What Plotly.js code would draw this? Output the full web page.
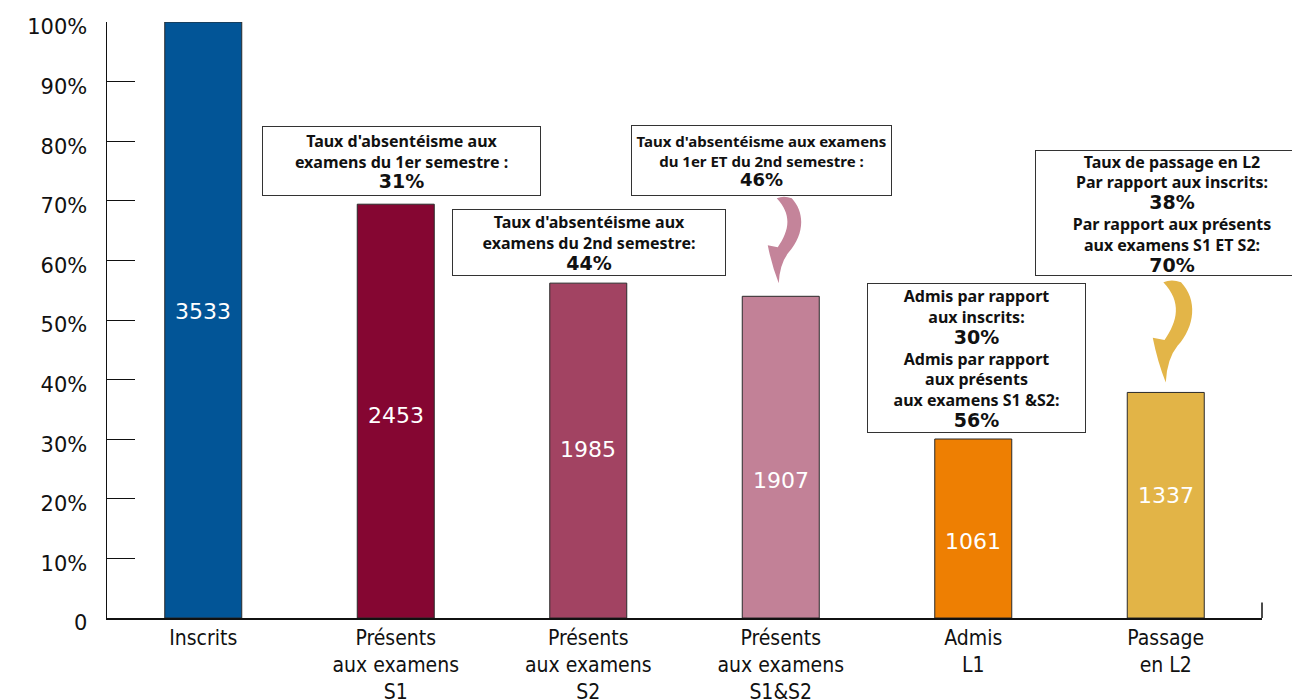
<!DOCTYPE html>
<html>
<head>
<meta charset="utf-8">
<script src="https://cdn.plot.ly/plotly-3.0.1.min.js"></script>
<style>
  html, body { margin: 0; padding: 0; background: #fff; }
  #chart { width: 1292px; height: 700px; }
</style>
</head>
<body>
<div id="chart"></div>
<script>
// Student cohort: registrations, exam attendance, admissions and progression to L2
const categories = [
  'Inscrits',
  'Présents<br>aux examens<br>S1',
  'Présents<br>aux examens<br>S2',
  'Présents<br>aux examens<br>S1&S2',
  'Admis<br>L1',
  'Passage<br>en L2'
];
const counts = [3533, 2453, 1985, 1907, 1061, 1337];
const barColors = ['#025597', '#850632', '#A24362', '#C28197', '#EE7F02', '#E2B447'];
const yTickVals = [0, 10, 20, 30, 40, 50, 60, 70, 80, 90, 100];
const yTickText = ['0', '10%', '20%', '30%', '40%', '50%', '60%', '70%', '80%', '90%', '100%'];

// Callout texts: [body lines, highlighted rate] groups
const calloutS1 = [['Taux d\'absentéisme aux', 'examens du 1er semestre :'], '31%'];
const calloutS2 = [['Taux d\'absentéisme aux', 'examens du 2nd semestre:'], '44%'];
const calloutS1S2 = [['Taux d\'absentéisme aux examens', 'du 1er ET du 2nd semestre :'], '46%'];
const calloutAdmisA = [['Admis par rapport', 'aux inscrits:'], '30%'];
const calloutAdmisB = [['Admis par rapport', 'aux présents', 'aux examens S1 &S2:'], '56%'];
const calloutPassageA = [['Taux de passage en L2', 'Par rapport aux inscrits:'], '38%'];
const calloutPassageB = [['Par rapport aux présents', 'aux examens S1 ET S2:'], '70%'];

const xIdx = categories.map((_, i) => i);
const shares = counts.map(c => c / counts[0] * 100);

// vertical placement of the count inside each bar (share of axis)
const countLabelLevel = [51.5, 34, 28.2, 23, 12.9, 20.6];

const pctFont = 'DejaVu Sans';
function block(group, pctSize) {
  const lines = group[0].slice();
  lines.push('<span style="font-family:' + pctFont + ';font-size:' + (pctSize || 19) + 'px">' + group[1] + '</span>');
  return lines.join('<br>');
}

function callout(text, x, y, w, h, size) {
  return {
    xref: 'x', yref: 'y', x: x, y: y, text: text, showarrow: false,
    width: w, height: h, bgcolor: '#ffffff', bordercolor: '#333333', borderwidth: 1, borderpad: 0,
    align: 'center', valign: 'middle',
    font: { family: 'Noto Sans', size: size || 16, color: '#111111', weight: 'bold' }
  };
}

// curved arrow outline, pixel offsets from its tip (y up)
const arrowOutline = [
  ['M', -1, 36],
  ['C', 10, 52, 14, 68, -2, 85],
  ['Q', 5, 88, 13, 85],
  ['C', 27, 70, 25, 48, 10, 31],
  ['Q', 1, 20, 0, 0],
  ['Q', -7, 18, -11, 38],
  ['Z']
];
function arrowPath(dx, dy, s) {
  return arrowOutline.map(seg => {
    if (seg[0] === 'Z') return 'Z';
    const pts = [];
    for (let i = 1; i < seg.length; i += 2) {
      pts.push((seg[i] * s + dx).toFixed(1) + ',' + (seg[i + 1] * s + dy).toFixed(1));
    }
    return seg[0] + ' ' + pts.join(' ');
  }).join(' ');
}

const bars = {
  type: 'bar',
  x: xIdx,
  y: shares,
  width: 0.4,
  marker: { color: barColors, line: { color: '#2a2a2a', width: 1 } },
  hoverinfo: 'skip'
};

const countLabels = counts.map((c, i) => ({
  xref: 'x', yref: 'y', x: xIdx[i], y: countLabelLevel[i], text: String(c), showarrow: false,
  font: { family: 'DejaVu Sans', size: 22, color: '#ffffff' }
}));

const annotations = countLabels.concat([
  callout(block(calloutS1), 1.03, 76.7, 277, 68),
  callout(block(calloutS2), 2.005, 63.0, 272, 65),
  callout(block(calloutS1S2, 18), 2.9, 76.8, 259, 69, 15),
  callout(block(calloutAdmisA) + '<br>' + block(calloutAdmisB), 4.015, 43.6, 217, 148),
  callout(block(calloutPassageA) + '<br>' + block(calloutPassageB), 5.03, 68.0, 272, 124)
]);

const shapes = [
  {
    type: 'path', xref: 'x', yref: 'y', xsizemode: 'pixel', ysizemode: 'pixel',
    xanchor: xIdx[3], yanchor: shares[3], path: arrowPath(-2, 13, 1),
    fillcolor: '#C4849A', line: { width: 0 }
  },
  {
    type: 'path', xref: 'x', yref: 'y', xsizemode: 'pixel', ysizemode: 'pixel',
    xanchor: xIdx[5], yanchor: shares[5], path: arrowPath(0, 10, 1.18),
    fillcolor: '#E3B548', line: { width: 0 }
  },
  {
    type: 'line', xref: 'paper', yref: 'y', x0: 1, x1: 1, y0: 0, y1: 2.6,
    line: { color: '#111111', width: 1.5 }
  }
];

const layout = {
  width: 1292, height: 700,
  margin: { l: 107, r: 30, t: 22, b: 82 },
  paper_bgcolor: '#ffffff', plot_bgcolor: '#ffffff',
  showlegend: false,
  xaxis: {
    range: [-0.5, 5.5], tickvals: xIdx, ticktext: categories,
    showgrid: false, zeroline: false, showline: true, linecolor: '#111111', linewidth: 1.5,
    ticks: '', tickfont: { family: 'DejaVu Sans Condensed, Liberation Sans Narrow, Roboto, sans-serif', size: 21, color: '#111111' },
    fixedrange: true
  },
  yaxis: {
    range: [0, 100], tickvals: yTickVals, ticktext: yTickText,
    showgrid: false, zeroline: false, showline: true, linecolor: '#111111', linewidth: 1.5,
    ticks: 'inside', ticklen: 28, tickwidth: 1, tickcolor: '#111111',
    ticklabelstandoff: 14, ticklabelshift: 5,
    tickfont: { family: 'DejaVu Sans', size: 21, color: '#111111' },
    fixedrange: true
  },
  annotations: annotations,
  shapes: shapes
};

Plotly.newPlot('chart', [bars], layout, { displayModeBar: false, staticPlot: true });
</script>
</body>
</html>
